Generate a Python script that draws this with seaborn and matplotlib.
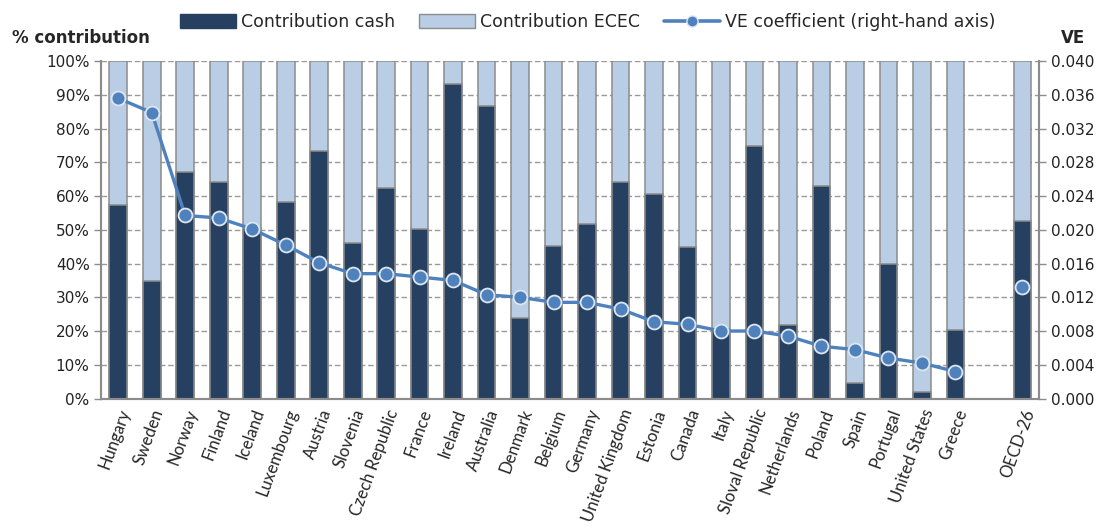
import matplotlib
matplotlib.use("Agg")
import matplotlib.pyplot as plt
import matplotlib.ticker as mticker
from matplotlib.patches import Patch
from matplotlib.lines import Line2D
import seaborn as sns
import pandas as pd

countries = ["Hungary", "Sweden", "Norway", "Finland", "Iceland", "Luxembourg",
             "Austria", "Slovenia", "Czech Republic", "France", "Ireland",
             "Australia", "Denmark", "Belgium", "Germany", "United Kingdom",
             "Estonia", "Canada", "Italy", "Sloval Republic", "Netherlands",
             "Poland", "Spain", "Portugal", "United States", "Greece"]
cash = [57.3, 34.8, 67.0, 64.1, 50.6, 58.3, 73.5, 46.2, 62.5, 50.1, 93.1,
        86.7, 23.9, 45.3, 51.8, 64.1, 60.5, 44.9, 20.6, 74.7, 21.7, 62.9,
        4.6, 39.8, 1.8, 20.3]
ve = [0.0356, 0.0339, 0.0217, 0.0214, 0.0201, 0.0182, 0.0161, 0.0148,
      0.0148, 0.0144, 0.0140, 0.0123, 0.0120, 0.0114, 0.0114, 0.0106,
      0.0091, 0.0088, 0.0080, 0.0080, 0.0074, 0.0062, 0.0058, 0.0048,
      0.0042, 0.0032]
oecd_label = "OECD-26"
oecd_cash = 52.6
oecd_ve = 0.0132

dark = "#264062"
light = "#B9CDE5"
line_col = "#4F81BD"
grey = "#8C8C8C"

sns.set_theme(style="white")
plt.rcParams["font.family"] = ["DejaVu Sans"]

n = len(countries)
df = pd.DataFrame({
    "pos": list(range(n)) + [n + 1],
    "label": countries + [oecd_label],
    "cash": cash + [oecd_cash],
    "ve": ve + [oecd_ve],
})
df["total"] = 100.0

fig = plt.figure(figsize=(11.09, 5.27), dpi=100)
ax = fig.add_axes([0.0915, 0.2438, 0.8455, 0.6403])

# stacked 100% bars: light full bar, dark cash part on top of it
sns.barplot(data=df, x="pos", y="total", native_scale=True, width=0.53,
            color=light, saturation=1, edgecolor=grey, linewidth=1.1, ax=ax)
sns.barplot(data=df, x="pos", y="cash", native_scale=True, width=0.53,
            color=dark, saturation=1, edgecolor=grey, linewidth=1.1, ax=ax)

ax.set_xlim(-0.5, n + 1.5)
ax.set_ylim(0, 100)
ax.set_yticks(range(0, 101, 10))
ax.yaxis.set_major_formatter(mticker.FuncFormatter(lambda v, p: f"{v:.0f}%"))
ax.set_xticks(df["pos"])
ax.set_xticklabels(df["label"], rotation=70, ha="right", rotation_mode="anchor",
                   family=["Lato", "DejaVu Sans"], fontsize=12)
ax.set_xticks([i - 0.5 for i in range(n + 3)], minor=True)
ax.tick_params(axis="x", which="major", length=0, pad=6)
ax.tick_params(axis="x", which="minor", length=5, width=1, color=grey, direction="out")
ax.tick_params(axis="y", length=5, width=1, color=grey, direction="out",
               labelsize=11, colors="#222222")
ax.set_xlabel("")
ax.set_ylabel("")
ax.yaxis.grid(True, linestyle=(0, (4, 2)), color="#999999", linewidth=1)
ax.set_axisbelow(True)
for s in ["left", "bottom", "right"]:
    ax.spines[s].set_color(grey)
    ax.spines[s].set_linewidth(1.5)
ax.spines["top"].set_visible(False)

# VE coefficient on right-hand axis
ax2 = ax.twinx()
sns.lineplot(x=df["pos"][:n], y=df["ve"][:n], color=line_col, linewidth=2.4,
             marker="o", markersize=10, markerfacecolor=line_col,
             markeredgecolor="#DCE6F2", markeredgewidth=1.3, ax=ax2)
sns.lineplot(x=df["pos"][n:], y=df["ve"][n:], color=line_col, linewidth=0,
             marker="o", markersize=10, markerfacecolor=line_col,
             markeredgecolor="#DCE6F2", markeredgewidth=1.3, ax=ax2)
ax2.set_ylim(0, 0.04)
ax2.set_yticks([i * 0.004 for i in range(11)])
ax2.yaxis.set_major_formatter(mticker.FormatStrFormatter("%.3f"))
ax2.tick_params(axis="y", length=5, width=1, color=grey, direction="out",
                labelsize=11, colors="#222222")
ax2.set_ylabel("")
ax2.grid(False)
for s in ["left", "bottom", "right"]:
    ax2.spines[s].set_color(grey)
    ax2.spines[s].set_linewidth(1.5)
ax2.spines["top"].set_visible(False)

fig.text(0.011, 0.928, "% contribution", fontsize=12, fontweight="bold", va="center")
fig.text(0.957, 0.928, "VE", fontsize=12, fontweight="bold", va="center")

handles = [
    Patch(facecolor=dark, edgecolor=dark, label="Contribution cash"),
    Patch(facecolor=light, edgecolor=grey, label="Contribution ECEC"),
    Line2D([0], [0], color=line_col, linewidth=2.6, marker="o", markersize=8,
           markerfacecolor=line_col, markeredgecolor="#DCE6F2",
           label="VE coefficient (right-hand axis)"),
]
fig.legend(handles=handles, loc="center", bbox_to_anchor=(0.53, 0.958), ncol=3,
           frameon=False, fontsize=12.5, handlelength=3.2, handleheight=0.8,
           columnspacing=1.4, handletextpad=0.3)

fig.savefig("out.png", dpi=100)
